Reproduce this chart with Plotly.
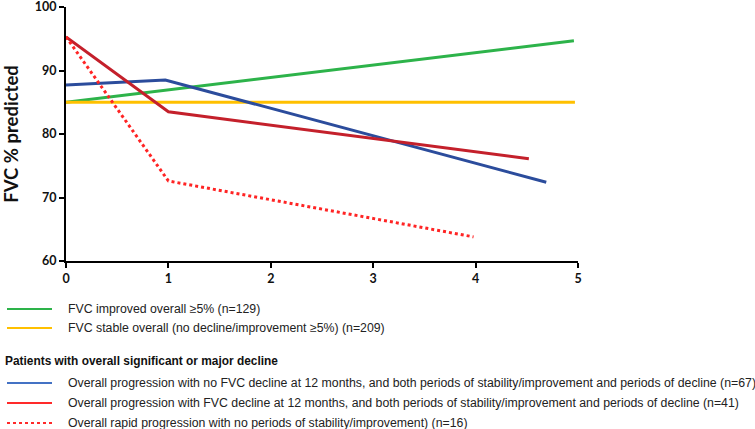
import plotly.graph_objects as go

# ---- data ----
improved_x = [0, 4.96]
improved_y = [85.0, 94.7]
stable_x = [0, 4.97]
stable_y = [85.0, 85.0]
noDecline12_x = [0, 0.97, 4.69]
noDecline12_y = [87.7, 88.5, 72.4]
decline12_x = [0, 1, 4.52]
decline12_y = [95.3, 83.5, 76.1]
rapid_x = [0, 1, 3.98]
rapid_y = [95.3, 72.6, 63.8]

x_ticks = [0, 1, 2, 3, 4, 5]
y_ticks = [60, 70, 80, 90, 100]

legend_labels = [
    "FVC improved overall \u22655% (n=129)",
    "FVC stable overall (no decline/improvement \u22655%) (n=209)",
    "Overall progression with no FVC decline at 12 months, and both periods of stability/improvement and periods of decline (n=67)",
    "Overall progression with FVC decline at 12 months, and both periods of stability/improvement and periods of decline (n=41)",
    "Overall rapid progression with no periods of stability/improvement) (n=16)",
]
group_title = "Patients with overall significant or major decline"

W, H = 755, 429
L, R, T, B = 66, 177, 7, 168
PW, PH = W - L - R, H - T - B

def px(x):
    return (x - L) / PW

def py(y):
    return (H - B - y) / PH

fig = go.Figure()
line_specs = [
    (improved_x, improved_y, "#2DB34A", "solid"),
    (stable_x, stable_y, "#FFC000", "solid"),
    (noDecline12_x, noDecline12_y, "#2B4C9C", "solid"),
    (decline12_x, decline12_y, "#C4202B", "solid"),
    (rapid_x, rapid_y, "#FF2424", "dot"),
]
for xs, ys, c, d in line_specs:
    fig.add_trace(go.Scatter(x=xs, y=ys, mode="lines",
                             line=dict(color=c, width=3, dash=d),
                             showlegend=False, hoverinfo="skip", cliponaxis=False))

# manual legend
leg_colors = ["#2DB34A", "#FFC000", "#4472C4", "#FF2A2A", "#FF2A2A"]
leg_dash = ["solid", "solid", "solid", "solid", "dot"]
leg_y = [309, 328, 383, 403, 423]
shapes = []
annotations = []
for lab, c, d, yy in zip(legend_labels, leg_colors, leg_dash, leg_y):
    shapes.append(dict(type="line", xref="paper", yref="paper",
                       x0=px(7), x1=px(52), y0=py(yy), y1=py(yy),
                       line=dict(color=c, width=2, dash=d)))
    annotations.append(dict(xref="paper", yref="paper", x=px(66), y=py(yy),
                            xanchor="left", yanchor="middle", showarrow=False,
                            text=lab, font=dict(family="Liberation Sans, Arial", size=12.3, color="#222")))
annotations.append(dict(xref="paper", yref="paper", x=px(3), y=py(361),
                        xanchor="left", yanchor="middle", showarrow=False,
                        text="<b>" + group_title + "</b>",
                        font=dict(family="Liberation Sans, Arial", size=11.9, color="#111")))

tickfont = dict(family="Lato", size=12.5, color="#111", weight="bold")
fig.update_layout(
    width=W, height=H,
    margin=dict(l=L, r=R, t=T, b=B),
    paper_bgcolor="white", plot_bgcolor="white",
    shapes=shapes, annotations=annotations,
    showlegend=False,
    xaxis=dict(range=[0, 5], tickvals=x_ticks, showgrid=False, zeroline=False,
               showline=True, linecolor="black", linewidth=2, automargin=False,
               ticks="outside", ticklen=5, tickwidth=2, tickcolor="black",
               tickfont=tickfont, ticklabeloverflow="allow", fixedrange=True),
    yaxis=dict(range=[60, 100], tickvals=y_ticks, showgrid=False, zeroline=False,
               showline=True, linecolor="black", linewidth=2, automargin=False,
               ticks="outside", ticklen=5, tickwidth=2, tickcolor="black",
               tickfont=tickfont, ticklabeloverflow="allow",
               title=dict(text="<b>FVC % predicted</b>", standoff=20,
                          font=dict(family="Lato", size=18.5, color="#111")),
               fixedrange=True),
)

fig.write_html("out.html", config={"displayModeBar": False},
               post_script="document.body.style.margin='0';document.body.style.overflow='hidden';")
